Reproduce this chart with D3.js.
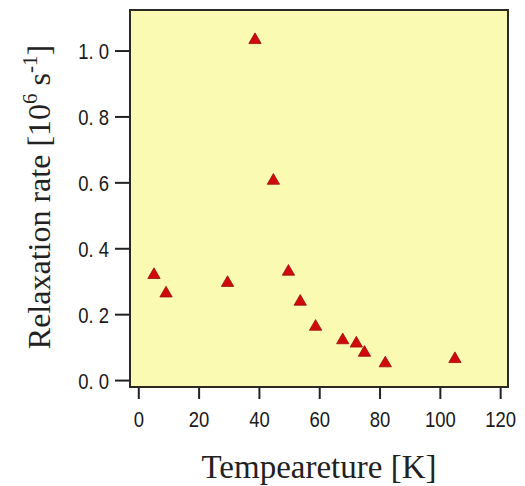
<!DOCTYPE html>
<html>
<head>
<meta charset="utf-8">
<script src="https://cdn.jsdelivr.net/npm/d3@7"></script>
<style>
  body { margin: 0; background: #fff; }
  .title { font-family: "Liberation Serif", "DejaVu Serif", serif; font-size: 32px; fill: #222; }
</style>
</head>
<body>
<script>
// temperature [K]
var temps = [5.2, 9.2, 29.6, 38.7, 44.8, 49.8, 53.7, 58.8, 67.8, 72.3, 75.0, 81.9, 105.0];
// relaxation rate [10^6 s^-1]
var rates = [0.319, 0.263, 0.295, 1.032, 0.605, 0.329, 0.238, 0.162, 0.121, 0.111, 0.083, 0.051, 0.064];
var xTicks = [0, 20, 40, 60, 80, 100, 120];
var yTicks = [0.0, 0.2, 0.4, 0.6, 0.8, 1.0];

var w = 525, h = 486;
var box = { left: 130, right: 508, top: 10, bottom: 387 };

var svg = d3.select('body').append('svg')
  .attr('width', w)
  .attr('height', h);

var x = d3.scaleLinear().domain([-2.75, 122.6]).range([box.left, box.right]);
var y = d3.scaleLinear().domain([-0.021, 1.123]).range([box.bottom, box.top]);

svg.append('rect')
  .attr('x', box.left)
  .attr('y', box.top)
  .attr('width', box.right - box.left)
  .attr('height', box.bottom - box.top)
  .attr('fill', '#fafab2')
  .attr('stroke', '#2a2a22')
  .attr('stroke-width', 2);

var xAxis = svg.append('g')
  .attr('transform', 'translate(0,' + (box.bottom + 1) + ')')
  .call(d3.axisBottom(x).tickValues(xTicks).tickSize(11).tickPadding(12).tickFormat(d3.format('d')));

var yAxis = svg.append('g')
  .attr('transform', 'translate(' + (box.left - 1) + ',0)')
  .call(d3.axisLeft(y).tickValues(yTicks).tickSize(14).tickPadding(6).tickFormat(function(d) {
    return d3.format('.1f')(d).replace('.', '. ');
  }));

[xAxis, yAxis].forEach(function(a) {
  a.select('.domain').remove();
  a.selectAll('.tick line').attr('stroke', '#222').attr('stroke-width', 2);
  a.selectAll('.tick text')
    .style('font-family', '"Liberation Sans", Arial, sans-serif')
    .style('font-size', '22px')
    .style('fill', '#1a1a1a');
});
// narrow digits like the original
xAxis.selectAll('.tick text').attr('transform', 'scale(0.84,1)');
yAxis.selectAll('.tick text')
  .attr('dy', '0.36em')
  .style('white-space', 'pre')
  .attr('x', -20 / 0.84)
  .attr('transform', 'scale(0.84,1)');

var tri = d3.symbol().type(d3.symbolTriangle).size(66);

svg.append('g').selectAll('path')
  .data(temps)
  .enter()
  .append('path')
    .attr('d', tri)
    .attr('transform', function(d, i) { return 'translate(' + x(d) + ',' + y(rates[i]) + ')'; })
    .attr('fill', '#d00a0a')
    .attr('stroke', '#9a1010')
    .attr('stroke-width', 0.8);

svg.append('text')
  .attr('class', 'title')
  .style('font-size', '33px')
  .attr('x', 319)
  .attr('y', 478)
  .attr('text-anchor', 'middle')
  .text('Tempeareture [K]');

var yt = svg.append('text')
  .attr('class', 'title')
  .attr('transform', 'translate(50,197) rotate(-90)')
  .attr('text-anchor', 'middle');
yt.append('tspan').text('Relaxation rate [10');
yt.append('tspan').attr('dy', -13).attr('font-size', 21).text('6');
yt.append('tspan').attr('dy', 13).text(' s');
yt.append('tspan').attr('dy', -13).attr('font-size', 21).text('-1');
yt.append('tspan').attr('dy', 13).text(']');
</script>
</body>
</html>
